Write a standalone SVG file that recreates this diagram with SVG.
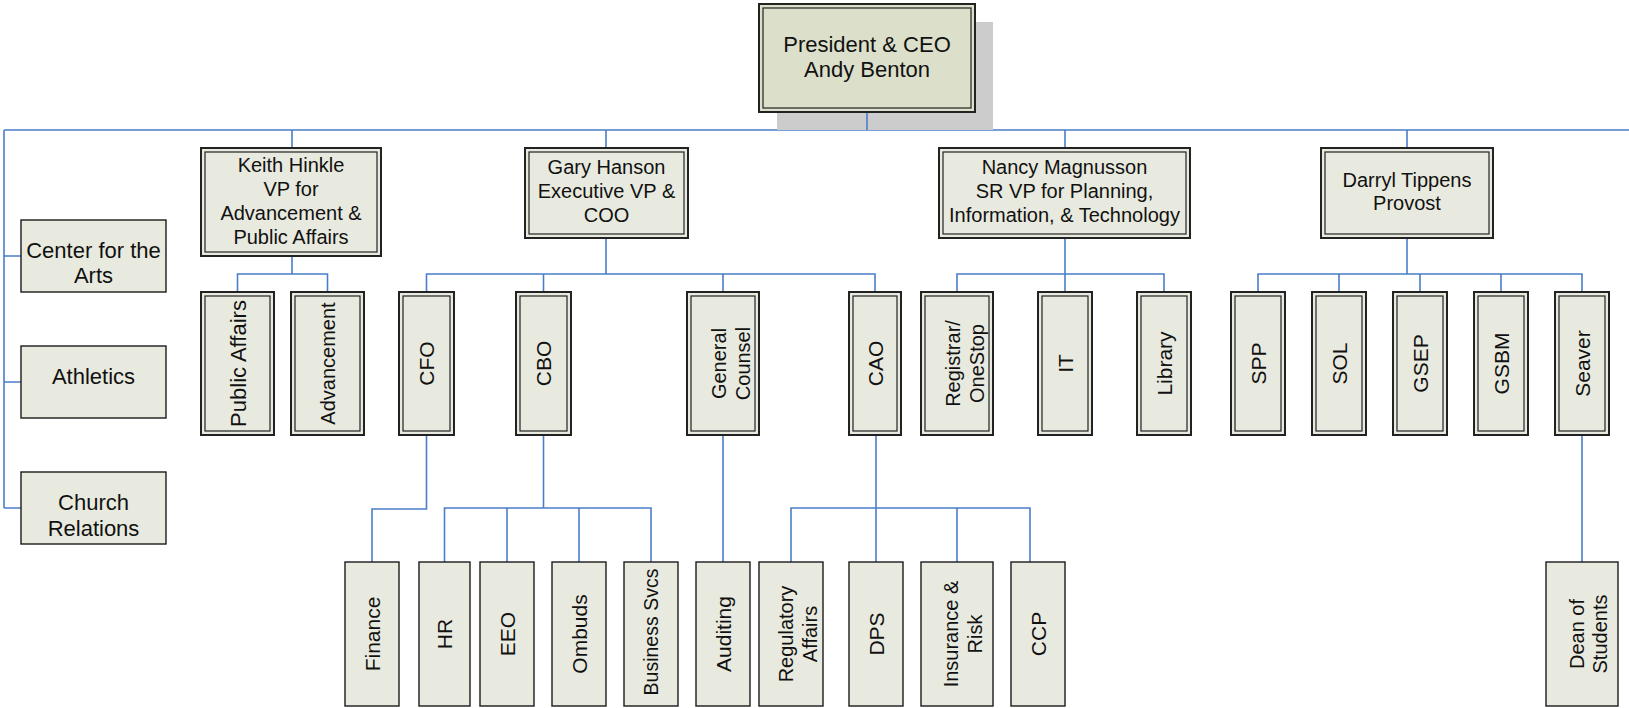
<svg xmlns="http://www.w3.org/2000/svg" width="1629" height="708" viewBox="0 0 1629 708">
<style>
.c{fill:none;stroke:#4A7EC8;stroke-width:1.6}
.o{fill:#E9EADF;stroke:#222;stroke-width:2}
.i{fill:none;stroke:#222;stroke-width:1.2}
.s{fill:#E9EADF;stroke:#1a1a1a;stroke-width:1.4}
text{font-family:"Liberation Sans",Arial,sans-serif;fill:#111;text-anchor:middle}
.t20{font-size:20px}
.t21{font-size:21px}
.t22{font-size:22px}
</style>
<rect width="1629" height="708" fill="#fff"/>
<g id="connectors">
<path class="c" d="M867,112V130M4,130H1629M4,130V508M4,256H21M4,382H21M4,508H21"/>
<path class="c" d="M292,130V148M606,130V148M1065,130V148M1407,130V148"/>
<path class="c" d="M292,256V274M237.5,292V274H327.5V292"/>
<path class="c" d="M606,238V274M426.5,292V274H875V292M543.5,274V292M723,274V292"/>
<path class="c" d="M1065,238V292M957,292V274H1164V292"/>
<path class="c" d="M1407,238V274M1258,292V274H1582V292M1339,274V292M1420,274V292M1501,274V292"/>
<path class="c" d="M426.5,435V509H372V562"/>
<path class="c" d="M543.5,435V508M444.5,562V508H651V562M507,508V562M579,508V562"/>
<path class="c" d="M723,435V562"/>
<path class="c" d="M876,435V562M791,562V508H1030V562M957,508V562"/>
<path class="c" d="M1582,435V562"/>
</g>
<g id="president">
<rect x="777" y="22" width="216" height="108" fill="#CCCCCC"/>
<path class="c" d="M867,112V130"/>
<rect class="o" x="759" y="4" width="216" height="108" style="fill:#DCE0CB"/>
<rect class="i" x="763" y="8" width="208" height="100"/>
<text class="t22" x="867" y="52">President &amp; CEO</text>
<text class="t22" x="867" y="77">Andy Benton</text>
</g>
<g id="keith">
<rect class="o" x="201" y="148" width="180" height="108"/><rect class="i" x="205" y="152" width="172" height="100"/>
<text class="t20" x="291" y="172">Keith Hinkle</text>
<text class="t20" x="291" y="196">VP for</text>
<text class="t20" x="291" y="220">Advancement &amp;</text>
<text class="t20" x="291" y="244">Public Affairs</text>
</g>
<g id="gary">
<rect class="o" x="525" y="148" width="163" height="90"/><rect class="i" x="529" y="152" width="155" height="82"/>
<text class="t20" x="606.5" y="174">Gary Hanson</text>
<text class="t20" x="606.5" y="198">Executive VP &amp;</text>
<text class="t20" x="606.5" y="222">COO</text>
</g>
<g id="nancy">
<rect class="o" x="939" y="148" width="251" height="90"/><rect class="i" x="943" y="152" width="243" height="82"/>
<text class="t20" x="1064.5" y="174">Nancy Magnusson</text>
<text class="t20" x="1064.5" y="198">SR VP for Planning,</text>
<text class="t20" x="1064.5" y="222">Information, &amp; Technology</text>
</g>
<g id="darryl">
<rect class="o" x="1321" y="148" width="172" height="90"/><rect class="i" x="1325" y="152" width="164" height="82"/>
<text class="t20" x="1407" y="187">Darryl Tippens</text>
<text class="t20" x="1407" y="210">Provost</text>
</g>
<g id="arts">
<rect class="s" x="21" y="220" width="145" height="72"/>
<text class="t22" x="93.5" y="258">Center for the</text>
<text class="t22" x="93.5" y="283">Arts</text>
</g>
<g id="athletics">
<rect class="s" x="21" y="346" width="145" height="72"/>
<text class="t22" x="93.5" y="384">Athletics</text>
</g>
<g id="church">
<rect class="s" x="21" y="472" width="145" height="72"/>
<text class="t22" x="93.5" y="510">Church</text>
<text class="t22" x="93.5" y="536">Relations</text>
</g>
<g id="public-affairs">
<rect class="o" x="201" y="292" width="73" height="143"/><rect class="i" x="205" y="296" width="65" height="135"/>
<text style="font-size:22px" transform="translate(237.5,363.5) rotate(-90)" y="8">Public Affairs</text>
</g>
<g id="advancement">
<rect class="o" x="291" y="292" width="73" height="143"/><rect class="i" x="295" y="296" width="65" height="135"/>
<text class="t20" transform="translate(327.5,363.5) rotate(-90)" y="7">Advancement</text>
</g>
<g id="cfo">
<rect class="o" x="399" y="292" width="55" height="143"/><rect class="i" x="403" y="296" width="47" height="135"/>
<text class="t21" transform="translate(426.5,363.5) rotate(-90)" y="7.5">CFO</text>
</g>
<g id="cbo">
<rect class="o" x="516" y="292" width="55" height="143"/><rect class="i" x="520" y="296" width="47" height="135"/>
<text class="t21" transform="translate(543.5,363.5) rotate(-90)" y="7.5">CBO</text>
</g>
<g id="general-counsel">
<rect class="o" x="687" y="292" width="72" height="143"/><rect class="i" x="691" y="296" width="64" height="135"/>
<text class="t20" transform="translate(723,363.5) rotate(-90)" y="3">General</text>
<text class="t20" transform="translate(723,363.5) rotate(-90)" y="27">Counsel</text>
</g>
<g id="cao">
<rect class="o" x="849" y="292" width="52" height="143"/><rect class="i" x="853" y="296" width="44" height="135"/>
<text class="t21" transform="translate(875,363.5) rotate(-90)" y="7.5">CAO</text>
</g>
<g id="registrar">
<rect class="o" x="921" y="292" width="72" height="143"/><rect class="i" x="925" y="296" width="64" height="135"/>
<text class="t20" transform="translate(957,363.5) rotate(-90)" y="3">Registrar/</text>
<text class="t20" transform="translate(957,363.5) rotate(-90)" y="27">OneStop</text>
</g>
<g id="it">
<rect class="o" x="1038" y="292" width="54" height="143"/><rect class="i" x="1042" y="296" width="46" height="135"/>
<text class="t21" transform="translate(1065,363.5) rotate(-90)" y="7.5">IT</text>
</g>
<g id="library">
<rect class="o" x="1137" y="292" width="54" height="143"/><rect class="i" x="1141" y="296" width="46" height="135"/>
<text class="t21" transform="translate(1164,363.5) rotate(-90)" y="7.5">Library</text>
</g>
<g id="spp">
<rect class="o" x="1231" y="292" width="54" height="143"/><rect class="i" x="1235" y="296" width="46" height="135"/>
<text class="t21" transform="translate(1258,363.5) rotate(-90)" y="7.5">SPP</text>
</g>
<g id="sol">
<rect class="o" x="1312" y="292" width="54" height="143"/><rect class="i" x="1316" y="296" width="46" height="135"/>
<text class="t21" transform="translate(1339,363.5) rotate(-90)" y="7.5">SOL</text>
</g>
<g id="gsep">
<rect class="o" x="1393" y="292" width="54" height="143"/><rect class="i" x="1397" y="296" width="46" height="135"/>
<text class="t21" transform="translate(1420,363.5) rotate(-90)" y="7.5">GSEP</text>
</g>
<g id="gsbm">
<rect class="o" x="1474" y="292" width="54" height="143"/><rect class="i" x="1478" y="296" width="46" height="135"/>
<text class="t21" transform="translate(1501,363.5) rotate(-90)" y="7.5">GSBM</text>
</g>
<g id="seaver">
<rect class="o" x="1555" y="292" width="54" height="143"/><rect class="i" x="1559" y="296" width="46" height="135"/>
<text class="t21" transform="translate(1582,363.5) rotate(-90)" y="7.5">Seaver</text>
</g>
<g id="finance">
<rect class="s" x="345" y="562" width="54" height="144"/>
<text class="t21" transform="translate(372,634) rotate(-90)" y="7.5">Finance</text>
</g>
<g id="hr">
<rect class="s" x="419" y="562" width="51" height="144"/>
<text class="t21" transform="translate(444.5,634) rotate(-90)" y="7.5">HR</text>
</g>
<g id="eeo">
<rect class="s" x="480" y="562" width="54" height="144"/>
<text class="t21" transform="translate(507,634) rotate(-90)" y="7.5">EEO</text>
</g>
<g id="ombuds">
<rect class="s" x="552" y="562" width="54" height="144"/>
<text class="t21" transform="translate(579,634) rotate(-90)" y="7.5">Ombuds</text>
</g>
<g id="business-svcs">
<rect class="s" x="624" y="562" width="54" height="144"/>
<text style="font-size:19.5px" transform="translate(651,632) rotate(-90)" y="7">Business Svcs</text>
</g>
<g id="auditing">
<rect class="s" x="696" y="562" width="54" height="144"/>
<text class="t21" transform="translate(723,634) rotate(-90)" y="7.5">Auditing</text>
</g>
<g id="regulatory">
<rect class="s" x="759" y="562" width="64" height="144"/>
<text class="t20" transform="translate(791,634) rotate(-90)" y="2">Regulatory</text>
<text class="t20" transform="translate(791,634) rotate(-90)" y="26">Affairs</text>
</g>
<g id="dps">
<rect class="s" x="849" y="562" width="54" height="144"/>
<text class="t21" transform="translate(876,634) rotate(-90)" y="7.5">DPS</text>
</g>
<g id="insurance">
<rect class="s" x="921" y="562" width="72" height="144"/>
<text class="t20" transform="translate(957,634) rotate(-90)" y="1">Insurance &amp;</text>
<text class="t20" transform="translate(957,634) rotate(-90)" y="25">Risk</text>
</g>
<g id="ccp">
<rect class="s" x="1011" y="562" width="54" height="144"/>
<text class="t21" transform="translate(1038,634) rotate(-90)" y="7.5">CCP</text>
</g>
<g id="dean">
<rect class="s" x="1546" y="562" width="72" height="144"/>
<text class="t20" transform="translate(1582,634) rotate(-90)" y="2">Dean of</text>
<text class="t20" transform="translate(1582,634) rotate(-90)" y="25">Students</text>
</g>
</svg>
